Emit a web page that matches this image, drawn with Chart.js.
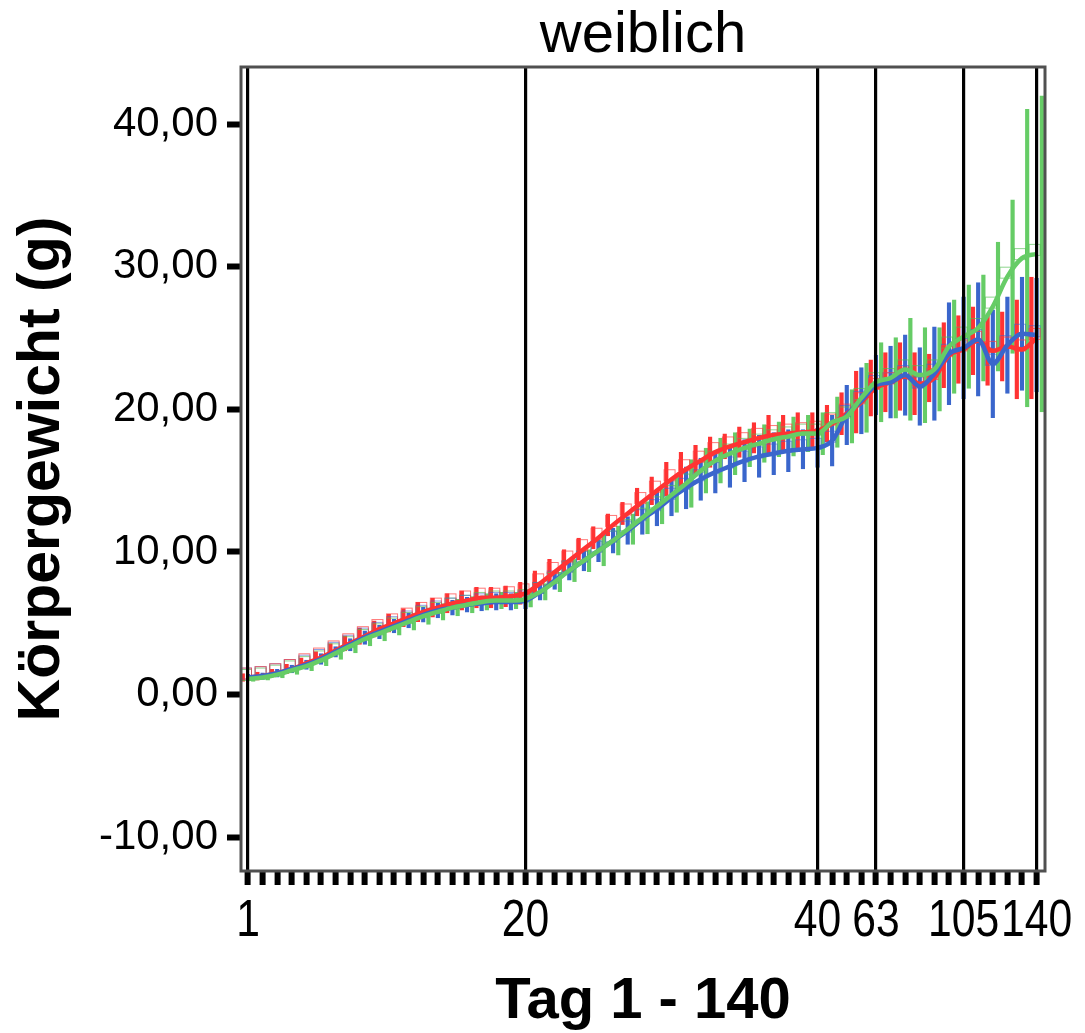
<!DOCTYPE html>
<html><head><meta charset="utf-8">
<script src="https://cdn.jsdelivr.net/npm/chart.js@4/dist/chart.umd.min.js"></script>
<style>html,body{margin:0;padding:0;background:#fff}canvas{display:block}</style>
</head><body>
<canvas id="c" width="1085" height="1033"></canvas>
<script>
// ---- data ----
const days = [1,2,3,4,5,6,7,8,9,10,11,12,13,14,15,16,17,18,19,20,21,22,23,24,25,26,27,28,29,30,31,32,33,34,35,36,37,38,39,40,42,49,56,63,70,77,84,91,98,105,112,119,126,133,140];
const shownDays = [1,20,40,63,105,140];
const yTickValues = [-10,0,10,20,30,40];

const redMean = [1.2,1.3,1.5,1.8,2.2,2.6,3.1,3.6,4.1,4.6,5.0,5.4,5.8,6.1,6.4,6.6,6.8,6.8,6.9,7.1,
  7.8,8.6,9.4,10.2,11.0,11.9,12.7,13.5,14.3,15.1,15.8,16.4,17.0,17.4,17.7,18.0,18.2,18.3,18.4,18.5,
  19.0,19.7,20.5,21.5,21.9,22.3,21.8,22.2,23.8,24.2,24.8,24.1,24.4,24.2,25.0];
const redErr = [0.3,0.3,0.3,0.35,0.4,0.45,0.5,0.55,0.6,0.6,0.65,0.65,0.7,0.7,0.7,0.7,0.75,0.75,0.75,0.8,
  0.9,0.9,0.8,0.8,0.8,0.8,0.8,1.0,1.0,1.2,1.2,1.1,1.1,0.9,1.1,1.1,1.4,1.3,1.4,1.3,
  1.3,1.5,2.2,2.0,2.1,2.4,2.2,1.7,2.3,2.4,2.4,2.45,2.45,3.5,4.3];

const blueMean = [1.2,1.3,1.5,1.8,2.1,2.5,3.0,3.5,4.0,4.4,4.8,5.2,5.6,5.9,6.1,6.3,6.4,6.5,6.5,6.6,
  7.2,8.0,8.7,9.4,10.1,10.8,11.5,12.3,13.0,13.8,14.5,15.1,15.6,16.0,16.4,16.7,16.9,17.1,17.2,17.3,
  17.8,19.6,20.6,21.7,21.9,22.4,21.6,22.5,23.9,24.3,24.9,23.2,24.5,25.3,25.2];
const blueErr = [0.25,0.25,0.3,0.3,0.35,0.4,0.4,0.45,0.5,0.5,0.5,0.55,0.55,0.55,0.55,0.55,0.55,0.6,0.6,0.6,
  0.6,0.65,0.7,0.75,0.8,0.9,1.0,1.1,1.2,1.3,1.5,1.5,1.5,1.5,1.5,1.5,1.5,1.5,1.4,1.4,
  1.8,2.1,2.35,2.1,2.55,2.85,2.75,3.3,3.6,3.6,4.0,3.8,3.4,4.0,4.0];

const greenMean = [1.1,1.2,1.4,1.7,2.0,2.4,2.9,3.4,3.9,4.3,4.7,5.1,5.5,5.8,6.1,6.3,6.5,6.6,6.6,6.7,
  7.2,7.9,8.7,9.4,10.1,10.8,11.6,12.4,13.2,14.0,14.8,15.7,16.4,16.9,17.3,17.6,17.9,18.1,18.3,18.3,
  19.1,19.5,20.8,21.9,22.2,22.8,22.4,22.8,24.4,25.1,25.7,27.2,29.3,30.6,30.9];
const greenErr = [0.2,0.2,0.25,0.3,0.35,0.4,0.45,0.5,0.5,0.55,0.55,0.6,0.6,0.6,0.6,0.6,0.6,0.6,0.6,0.6,
  0.6,0.7,0.8,0.8,1.1,1.05,1.1,1.15,1.25,1.25,1.7,1.6,1.6,1.5,1.35,1.35,1.25,1.4,1.3,1.5,
  1.8,1.9,2.45,2.8,2.85,3.6,3.35,2.95,3.3,3.65,3.75,4.55,5.4,10.45,11.1];

// ---- styles ----
const RED = '#ff3333', BLUE = '#3a66cc', GREEN = '#66cc66';
const SANS = "'Liberation Sans',Arial,sans-serif";

// linear scale whose tick labels are drawn horizontally condensed (narrow face look)
class CondensedLinear extends Chart.LinearScale {
  drawLabels(chartArea) {
    if (!this.options.ticks.display) return;
    const ctx = this.ctx;
    const items = this.getLabelItems ? this.getLabelItems(chartArea)
      : (this._labelItems || this._computeLabelItems(chartArea));
    for (const item of items) {
      const o = item.options;
      const x = o.translation[0];
      ctx.save();
      ctx.translate(x, 0); ctx.scale(0.82, 1); ctx.translate(-x, 0);
      Chart.helpers.renderText(ctx, item.label, 0, item.textOffset, item.font, o);
      ctx.restore();
    }
  }
}
CondensedLinear.id = 'condensedLinear';
CondensedLinear.defaults = Chart.LinearScale.defaults;
Chart.register(CondensedLinear);

function squareImg(color){
  const c = document.createElement('canvas');
  c.width = 28; c.height = 28;
  const g = c.getContext('2d');
  g.strokeStyle = color; g.lineWidth = 1;
  g.strokeRect(6.5, 4.5, 11, 11);
  return c;
}
const pts = arr => arr.map((v,i)=>({x:i, y:v}));
const bars = (m,e) => m.map((v,i)=>({x:i, y:[v-e[i], v+e[i]]}));

function lineDs(m, color, order){
  return {type:'line', data:pts(m), borderColor:color, borderWidth:4.5, pointRadius:0,
    cubicInterpolationMode:'monotone', fill:false, order:order};
}
function sqDs(m, color, order){
  return {type:'line', data:pts(m), showLine:false, pointStyle:squareImg(color),
    pointRadius:10, order:order};
}
function barDs(m, e, color, order){
  return {type:'bar', data:bars(m,e), backgroundColor:color, borderColor:'rgba(0,0,0,0)',
    borderWidth:{left:0.5,right:0.5,top:0,bottom:0}, borderSkipped:false, inflateAmount:0,
    barThickness:5.2, order:order};
}

const framePlugin = {
  id:'frame',
  afterDraw(chart){
    const {ctx, chartArea:a} = chart;
    ctx.save();
    ctx.strokeStyle = '#505050'; ctx.lineWidth = 3;
    ctx.strokeRect(a.left, a.top, a.right-a.left, a.bottom-a.top);
    ctx.restore();
  }
};

new Chart(document.getElementById('c'), {
  type:'line',
  data:{
    datasets:[
      lineDs(greenMean, GREEN, 0),
      lineDs(blueMean, BLUE, 1),
      lineDs(redMean, RED, 2),
      sqDs(redMean, 'rgba(255,60,60,0.7)', 3),
      sqDs(blueMean, 'rgba(60,100,210,0.6)', 4),
      sqDs(greenMean, 'rgba(80,190,80,0.65)', 5),
      barDs(redMean, redErr, RED, 6),
      barDs(blueMean, blueErr, BLUE, 7),
      barDs(greenMean, greenErr, GREEN, 8)
    ]
  },
  options:{
    responsive:false, animation:false, devicePixelRatio:1,
    layout:{padding:{left:0, right:40, top:0, bottom:0}},
    plugins:{
      legend:{display:false}, tooltip:{enabled:false},
      title:{display:true, fullSize:false, text:'weiblich', color:'#000',
        font:{family:SANS, size:58, weight:'normal', lineHeight:1},
        padding:{top:7.4, bottom:1.6}}
    },
    scales:{
      x:{
        type:'condensedLinear', min:-0.479, max:54.575, offset:false,
        afterBuildTicks:(s)=>{ s.ticks = days.map((d,i)=>({value:i})); },
        afterFit:(s)=>{ s.height = 162; s.paddingLeft = 0; s.paddingRight = 0; },
        border:{display:false},
        grid:{
          offset:false, z:1,
          drawOnChartArea:true, drawTicks:true, tickLength:14, tickWidth:6, tickColor:'#000',
          lineWidth:3.2,
          color:(c)=> (c.tick && shownDays.includes(days[c.tick.value])) ? '#000' : 'rgba(0,0,0,0)'
        },
        ticks:{
          autoSkip:false, maxRotation:0, minRotation:0, padding:10.5, color:'#000',
          font:{family:SANS, size:52, lineHeight:1},
          callback:(v)=> shownDays.includes(days[v]) ? String(days[v]) : ''
        },
        title:{display:true, text:'Tag 1 - 140', color:'#000',
          font:{family:SANS, size:58, weight:'bold', lineHeight:1},
          padding:{top:0, bottom:2.5}}
      },
      y:{
        type:'linear', min:-12.362, max:43.996,
        afterBuildTicks:(s)=>{ s.ticks = yTickValues.map(v=>({value:v})); },
        afterFit:(s)=>{ s.width = 241; },
        border:{display:false},
        grid:{drawOnChartArea:false, drawTicks:true, tickLength:14, tickWidth:6, tickColor:'#000'},
        ticks:{padding:9, color:'#000', font:{family:SANS, size:42, lineHeight:1},
          callback:(v)=> v.toFixed(2).replace('.', ',')},
        title:{display:true, text:'Körpergewicht (g)', color:'#000',
          font:{family:SANS, size:59, weight:'bold', lineHeight:1},
          padding:{top:13, bottom:0}}
      }
    }
  },
  plugins:[framePlugin]
});
</script>
</body></html>
